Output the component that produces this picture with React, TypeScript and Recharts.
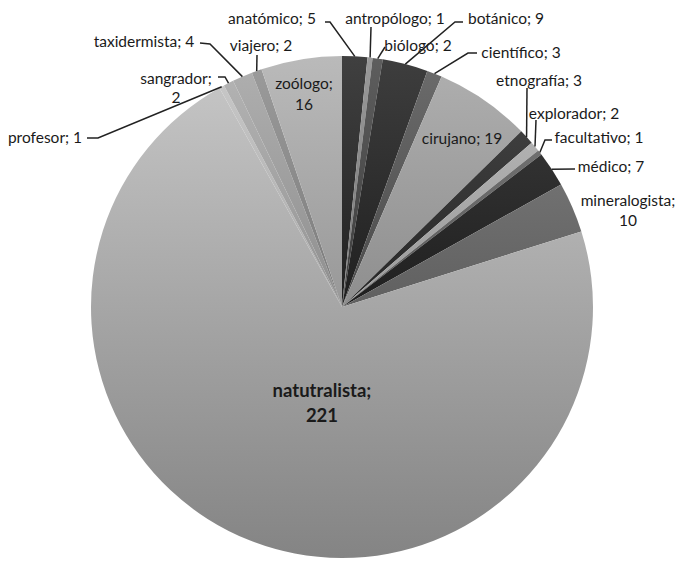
import { PieChart, Pie, Cell } from "recharts";

// occupations, clockwise from 12 o'clock
const names = [
  "anatómico",
  "antropólogo",
  "biólogo",
  "botánico",
  "científico",
  "cirujano",
  "etnografía",
  "explorador",
  "facultativo",
  "médico",
  "mineralogista",
  "natutralista",
  "profesor",
  "sangrador",
  "taxidermista",
  "viajero",
  "zoólogo",
];

const counts = [5, 1, 2, 9, 3, 19, 3, 2, 1, 7, 10, 221, 1, 2, 4, 2, 16];

const fills = [
  "#1e1e1e",
  "#777777",
  "#3c3c3c",
  "#1c1c1c",
  "#4a4a4a",
  "#8e8e8e",
  "#262626",
  "#9a9a9a",
  "#5a5a5a",
  "#1c1c1c",
  "#606060",
  "#a6a6a6",
  "#a8a8a8",
  "#939393",
  "#8e8e8e",
  "#7a7a7a",
  "#989898",
];

const data = names.map((name, i) => ({ name, value: counts[i] }));

const CX = 342;
const CY = 307;
const R = 251;

// label placement, relative to the pie centre; leader runs from label to slice edge
type LabelPos = {
  dx: number;
  dy: number;
  split?: boolean;
  gap?: number;
  bold?: boolean;
  leader?: [number, number][];
};

const LABELS: LabelPos[] = [
  { dx: -70, dy: -289, leader: [[-17, -285], [-12, -285]] },
  { dx: 53, dy: -289, leader: [[29, -280]] },
  { dx: 76, dy: -262, leader: [[43, -260]] },
  { dx: 164, dy: -289, leader: [[121, -285], [113, -285]] },
  { dx: 179, dy: -255, leader: [[135, -254], [126, -254]] },
  { dx: 120, dy: -169 },
  { dx: 197, dy: -227, leader: [[185, -219]] },
  { dx: 232, dy: -194, leader: [[194, -187]] },
  { dx: 257, dy: -170, leader: [[210, -167], [203, -167]] },
  { dx: 269, dy: -141, leader: [[233, -138]] },
  { dx: 286, dy: -107, split: true, gap: 20 },
  { dx: -20, dy: 83, split: true, gap: 25, bold: true },
  { dx: -297, dy: -170, leader: [[-255, -169], [-244, -169]] },
  { dx: -166, dy: -229, split: true, gap: 19, leader: [[-124, -230], [-117, -230]] },
  { dx: -198, dy: -266, leader: [[-142, -264], [-132, -263]] },
  { dx: -81, dy: -262, leader: [[-85, -252]] },
  { dx: -38, dy: -224, split: true, gap: 21 },
];

function shade(hex: string, amt: number) {
  const n = parseInt(hex.slice(1), 16);
  const c = [(n >> 16) & 255, (n >> 8) & 255, n & 255].map((v) =>
    Math.max(0, Math.min(255, v + amt))
  );
  return "#" + c.map((v) => v.toString(16).padStart(2, "0")).join("");
}

const RAD = Math.PI / 180;

const renderLabel = (props: any) => {
  const { cx, cy, midAngle, outerRadius, index, name, value } = props;
  const l = LABELS[index];
  const ex = cx + outerRadius * Math.cos(-midAngle * RAD);
  const ey = cy + outerRadius * Math.sin(-midAngle * RAD);
  const tx = cx + l.dx;
  const ty = cy + l.dy;
  const lines = l.split ? [`${name};`, `${value}`] : [`${name}; ${value}`];
  const pts = l.leader
    ? [...l.leader.map(([x, y]) => [cx + x, cy + y]), [ex, ey]]
    : null;

  return (
    <g key={`label-${index}`}>
      {pts && (
        <polyline
          points={pts.map((p) => p.join(",")).join(" ")}
          fill="none"
          stroke="#222222"
          strokeWidth={1.5}
        />
      )}
      <text
        x={tx}
        y={ty}
        textAnchor="middle"
        dominantBaseline="central"
        fill="#1a1a1a"
        fontSize={l.bold ? 18.5 : 15.5}
        fontWeight={l.bold ? 700 : 400}
        fontFamily="Lato, 'Noto Sans', sans-serif"
      >
        {lines.map((t, i) => (
          <tspan key={i} x={tx} dy={i === 0 ? 0 : l.gap}>
            {t}
          </tspan>
        ))}
      </text>
    </g>
  );
};

export default function App() {
  return (
    <div
      style={{
        position: "absolute",
        top: 0,
        left: 0,
        width: 680,
        height: 564,
        background: "#ffffff",
      }}
    >
      <PieChart width={680} height={564} margin={{ top: 0, right: 0, bottom: 0, left: 0 }}>
        <defs>
          {fills.map((f, i) => (
            <linearGradient
              key={i}
              id={`g${i}`}
              gradientUnits="userSpaceOnUse"
              x1={0}
              y1={CY - R}
              x2={0}
              y2={CY + R}
            >
              <stop offset="0%" stopColor={shade(f, 34)} />
              <stop offset="100%" stopColor={shade(f, -34)} />
            </linearGradient>
          ))}
        </defs>
        <Pie
          data={data}
          dataKey="value"
          nameKey="name"
          cx={CX}
          cy={CY}
          outerRadius={R}
          startAngle={90}
          endAngle={-270}
          stroke="none"
          label={renderLabel}
          labelLine={false}
          isAnimationActive={false}
        >
          {data.map((_, i) => (
            <Cell key={i} fill={`url(#g${i})`} />
          ))}
        </Pie>
      </PieChart>
    </div>
  );
}
